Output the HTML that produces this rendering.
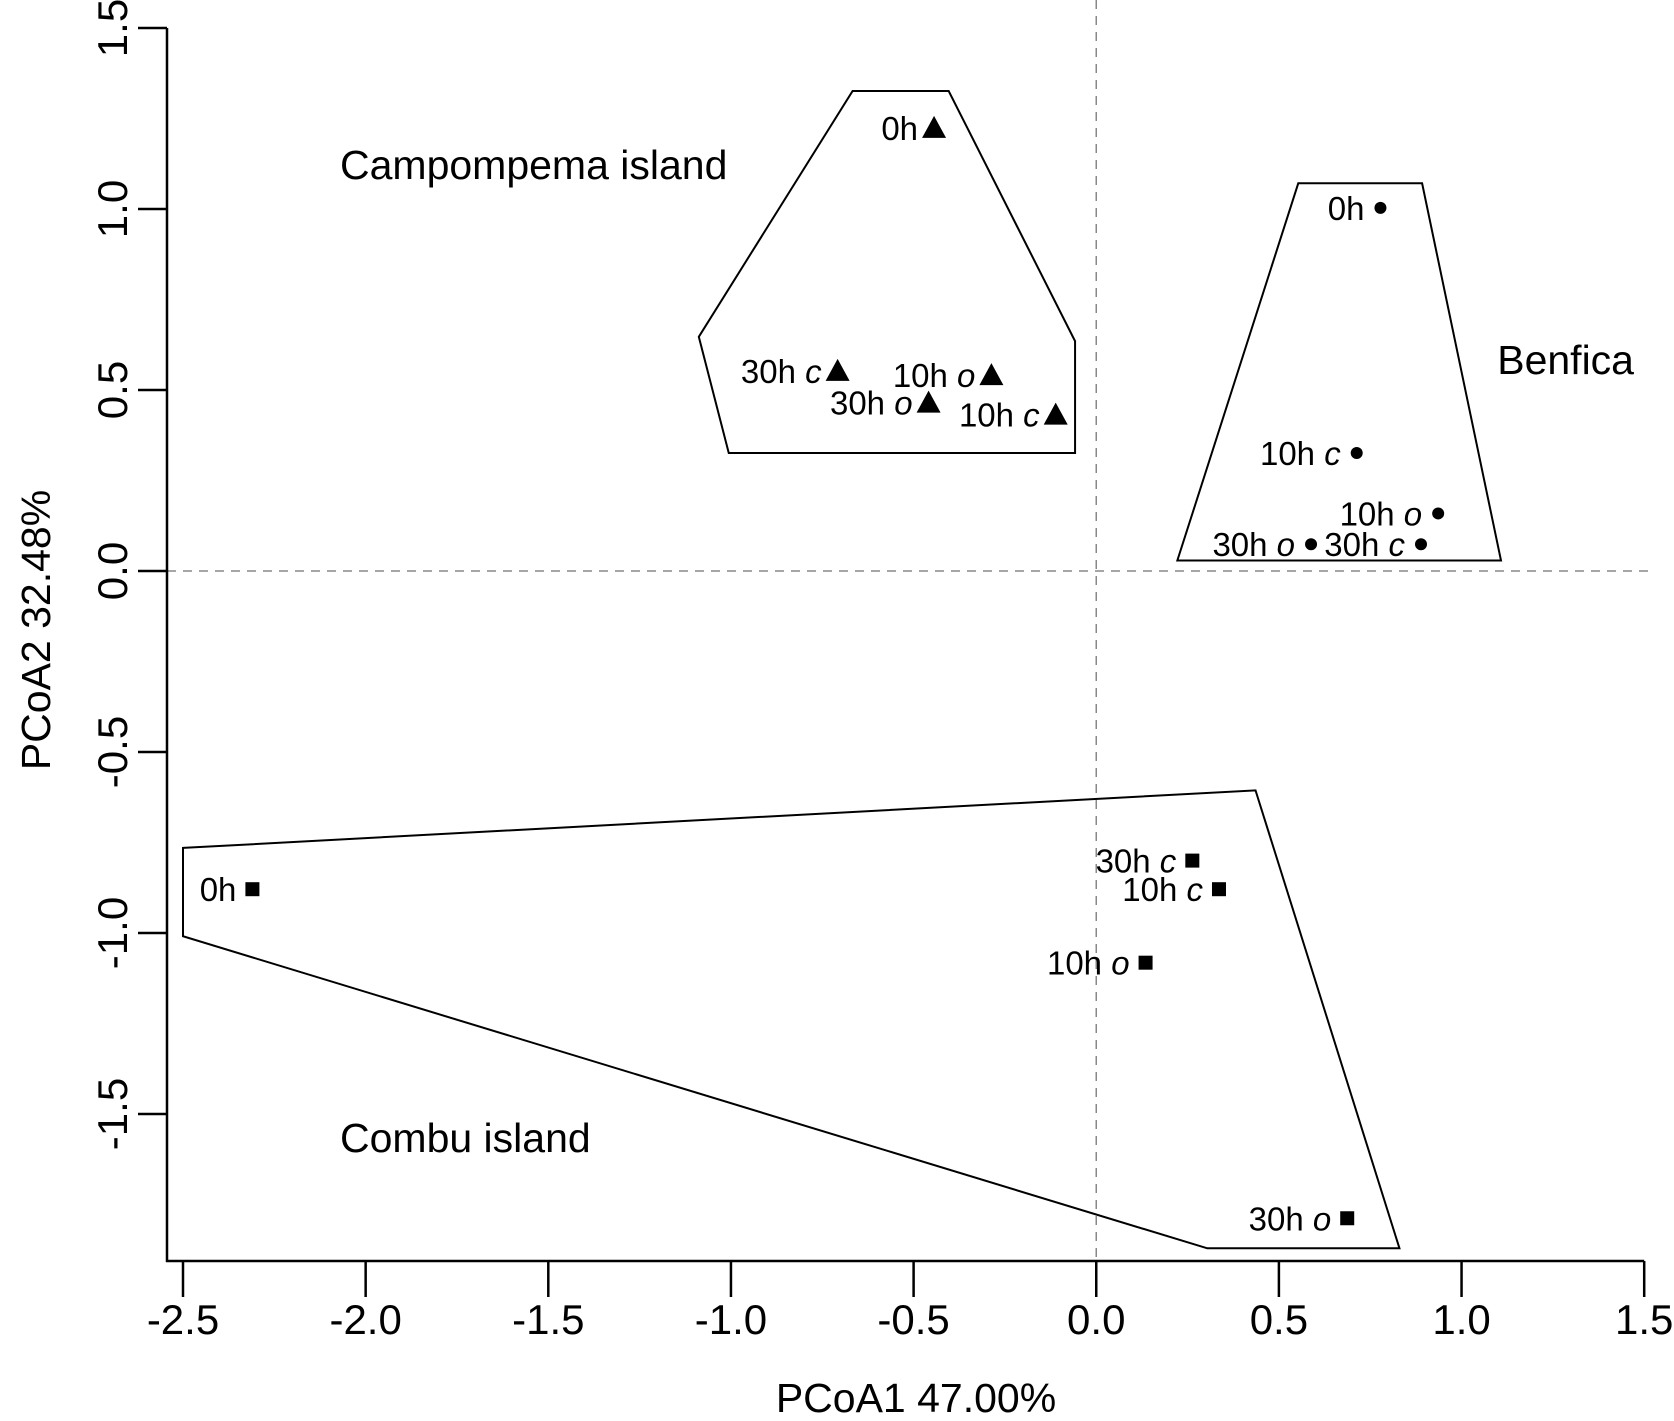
<!DOCTYPE html>
<html><head><meta charset="utf-8"><style>
body{margin:0;background:#fff}
svg{display:block;font-family:"Liberation Sans",Arial,sans-serif}
</style></head><body>
<svg id="chart" width="1674" height="1421" viewBox="0 0 1674 1421"></svg>
<script>
const xTicks=[-2.5,-2.0,-1.5,-1.0,-0.5,0.0,0.5,1.0,1.5];
const yTicks=[-1.5,-1.0,-0.5,0.0,0.5,1.0,1.5];
const campX=[-0.444,-0.708,-0.287,-0.459,-0.111];
const campY=[1.224,0.553,0.541,0.465,0.432];
const campLab=["0h","30h c","10h o","30h o","10h c"];
const benX=[0.778,0.713,0.936,0.588,0.889];
const benY=[1.003,0.326,0.159,0.074,0.074];
const benLab=["0h","10h c","10h o","30h o","30h c"];
const comX=[-2.310,0.263,0.336,0.135,0.687];
const comY=[-0.879,-0.800,-0.879,-1.082,-1.788];
const comLab=["0h","30h c","10h c","10h o","30h o"];
const campHullX=[-0.667,-0.404,-0.058,-0.058,-1.006,-1.088];
const campHullY=[1.326,1.326,0.635,0.326,0.326,0.647];
const benHullX=[0.553,0.892,1.108,0.222];
const benHullY=[1.071,1.071,0.029,0.029];
const comHullX=[-2.5,0.436,0.830,0.304,-2.5];
const comHullY=[-0.765,-0.606,-1.871,-1.871,-1.009];

const NS="http://www.w3.org/2000/svg";
const svg=document.getElementById('chart');
const sx=v=>183+(v+2.5)*365.3;
const sy=v=>571-v*362;
function el(t,a,p){const e=document.createElementNS(NS,t);for(const k in a)e.setAttribute(k,a[k]);(p||svg).appendChild(e);return e;}

let e;
e=el('line',{x1:sx(0),x2:sx(0),y1:0,y2:1261,stroke:'#888','stroke-width':1.5,'stroke-dasharray':'9,7'});


e=el('line',{x1:167,x2:1650,y1:sy(0),y2:sy(0),stroke:'#888','stroke-width':1.5,'stroke-dasharray':'9,7'});



e=el('line',{x1:167,x2:167,y1:sy(1.5),y2:1262,stroke:'#000','stroke-width':2.5});


e=el('line',{x1:166,x2:sx(1.5),y1:1261,y2:1261,stroke:'#000','stroke-width':2.5});


xTicks.forEach(t=>{
  e=el('line',{x1:sx(t),x2:sx(t),y1:1261,y2:1297,stroke:'#000','stroke-width':2.5});
  
  
  e=el('text',{x:sx(t),y:1334,'font-size':42,'text-anchor':'middle'});
  e.textContent=t.toFixed(1);
  
  
});
yTicks.forEach(t=>{
  e=el('line',{x1:167,x2:138,y1:sy(t),y2:sy(t),stroke:'#000','stroke-width':2.5});
  
  
  e=el('text',{x:0,y:0,'font-size':42,'text-anchor':'middle',transform:`translate(127,${sy(t)}) rotate(-90)`});
  e.textContent=t.toFixed(1);
  
  
});
e=el('text',{x:916,y:1412,'font-size':41,'text-anchor':'middle'});
e.textContent='PCoA1 47.00%';


e=el('text',{x:0,y:0,'font-size':41,'text-anchor':'middle',transform:'translate(50,630) rotate(-90)'});
e.textContent='PCoA2 32.48%';



function hull(xs,ys,name){
  const pts=xs.map((x,i)=>sx(x)+','+sy(ys[i])).join(' ');
  const h=el('polygon',{points:pts,fill:'none',stroke:'#000','stroke-width':2});
  
  
}
hull(campHullX,campHullY,'campompema-hull');
hull(benHullX,benHullY,'benfica-hull');
hull(comHullX,comHullY,'combu-hull');

function label(x,y,txt){
  const parts=txt.split(' ');
  const t=el('text',{x:sx(x)-16,y:sy(y)+12,'font-size':33,'text-anchor':'end'});
  
  
  const s1=el('tspan',{},t);s1.textContent=parts[0];
  if(parts[1]){const s2=el('tspan',{'font-style':'italic'},t);s2.textContent=' '+parts[1];}
}
campX.forEach((x,i)=>{
  const cx=sx(x),cy=sy(campY[i]);
  const m=el('polygon',{points:`${cx},${cy-12} ${cx-12},${cy+10} ${cx+12},${cy+10}`,fill:'#000'});
  
  
  label(x,campY[i],campLab[i]);
});
benX.forEach((x,i)=>{
  const m=el('circle',{cx:sx(x),cy:sy(benY[i]),r:6,fill:'#000'});
  
  
  label(x,benY[i],benLab[i]);
});
comX.forEach((x,i)=>{
  const m=el('rect',{x:sx(x)-7,y:sy(comY[i])-7,width:14,height:14,fill:'#000'});
  
  
  label(x,comY[i],comLab[i]);
});
[['Campompema island',340,179,'start','campompema-group-label'],['Benfica',1634,374,'end','benfica-group-label'],['Combu island',340,1152,'start','combu-group-label']].forEach(g=>{
  const t=el('text',{x:g[1],y:g[2],'font-size':41,'text-anchor':g[3]});
  t.textContent=g[0];
  
  
});
</script>
</body></html>
